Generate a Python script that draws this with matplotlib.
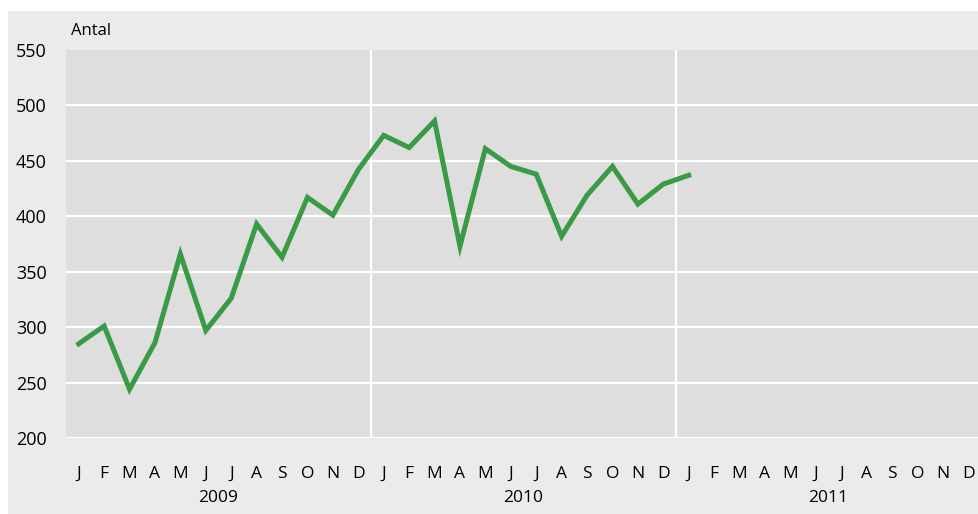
import numpy as np
import matplotlib.pyplot as plt
from matplotlib.patches import Rectangle

# monthly values, Jan 2009 - Jan 2011
values = [285, 301, 244, 286, 366, 297, 326, 393, 363, 417, 401, 442,
          473, 462, 486, 373, 461, 445, 438, 382, 419, 445, 411, 429,
          437]
month_labels = ['J', 'F', 'M', 'A', 'M', 'J', 'J', 'A', 'S', 'O', 'N', 'D'] * 3
years = ['2009', '2010', '2011']
yticks = [200, 250, 300, 350, 400, 450, 500, 550]

W, H = 979, 514
fig = plt.figure(figsize=(W / 100, H / 100), dpi=100)
fig.patch.set_facecolor('white')
fig.patches.append(Rectangle((8 / W, 0), 1, 503 / H, transform=fig.transFigure,
                             facecolor='#ebebeb', edgecolor='none', zorder=-5))

ax = fig.add_axes([66 / W, 76 / H, 915 / W, 388 / H])
ax.set_zorder(2)
ax.set_facecolor('#dedede')
for s in ax.spines.values():
    s.set_visible(False)

x = np.arange(len(values))
ax.plot(x, values, color='#3a9a45', lw=3.6, solid_joinstyle='miter', zorder=3)

ax.set_xlim(-0.5, 35.5)
ax.set_ylim(200, 550)
ax.set_yticks(yticks)
ax.set_yticklabels([str(v) for v in yticks], fontsize=13, family='Open Sans')
ax.tick_params(axis='y', length=0, pad=14)
ax.set_xticks([])
ax.grid(False)
for v in yticks[:-1]:
    ax.axhline(v, color='white', lw=1.6, zorder=1)
for b in [11.5, 23.5]:
    ax.axvline(b, color='white', lw=1.6, zorder=1)

tr = ax.get_xaxis_transform()
for i, m in enumerate(month_labels):
    ax.text(i, -0.0915, m, transform=tr, ha='center', va='center',
            fontsize=12.5, family='Open Sans', clip_on=False)
for k, yr in enumerate(years):
    ax.text(12 * k + 5.5, -0.155, yr, transform=tr, ha='center', va='center',
            fontsize=12.5, family='Open Sans', clip_on=False)

ax.text(5 / 915, 1.049, 'Antal', transform=ax.transAxes, ha='left', va='center',
        fontsize=12, family='Open Sans')

fig.savefig('out.png', dpi=100)
